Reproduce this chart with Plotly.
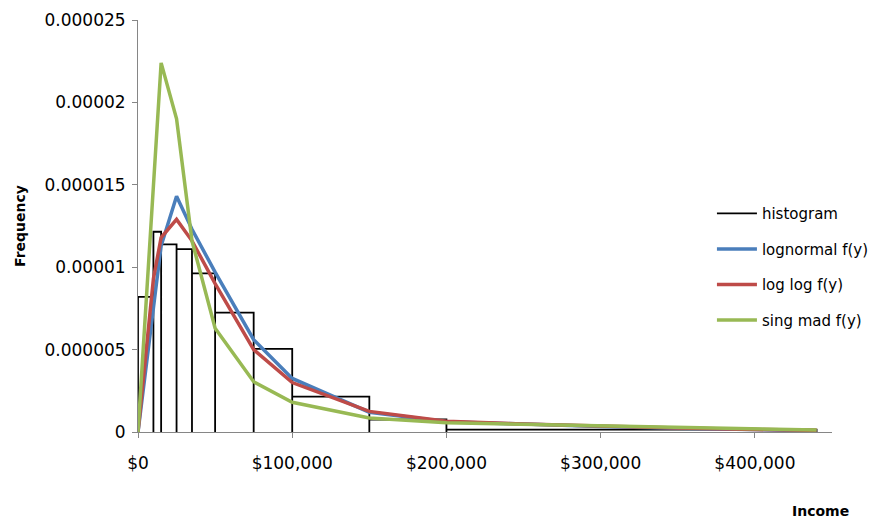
import plotly.graph_objects as go

# Histogram bins (income edges) and density heights
bin_edges = [0, 10000, 15000, 25000, 35000, 50000, 75000, 100000, 150000, 200000, 440000]
bin_heights = [8.2e-6, 12.15e-6, 11.39e-6, 11.1e-6, 9.63e-6, 7.24e-6, 5.04e-6, 2.15e-6, 0.76e-6, 0.15e-6]

# Fitted density curves evaluated at these incomes
income_pts = [0, 10000, 15000, 25000, 35000, 50000, 75000, 100000, 150000, 200000,
              250000, 300000, 350000, 400000, 440000]
lognormal_f = [0, 7.4e-6, 11.3e-6, 14.3e-6, 12.3e-6, 9.7e-6, 5.6e-6, 3.25e-6, 1.2e-6, 0.62e-6,
               0.46e-6, 0.34e-6, 0.23e-6, 0.13e-6, 0.07e-6]
loglog_f = [0, 9.3e-6, 11.8e-6, 12.9e-6, 11.6e-6, 9.0e-6, 5.0e-6, 3.0e-6, 1.25e-6, 0.65e-6,
            0.48e-6, 0.35e-6, 0.25e-6, 0.15e-6, 0.1e-6]
singmad_f = [0, 14.8e-6, 22.4e-6, 19.0e-6, 11.6e-6, 6.3e-6, 3.05e-6, 1.8e-6, 0.85e-6, 0.56e-6,
             0.46e-6, 0.36e-6, 0.27e-6, 0.18e-6, 0.12e-6]

x_ticks = [0, 100000, 200000, 300000, 400000]
x_tick_text = ["$0", "$100,000", "$200,000", "$300,000", "$400,000"]
y_ticks = [0, 0.000005, 0.00001, 0.000015, 0.00002, 0.000025]
y_tick_text = ["0", "0.000005", "0.00001", "0.000015", "0.00002", "0.000025"]

# Outline path of the histogram bars
hist_x, hist_y = [], []
for a, b, h in zip(bin_edges[:-1], bin_edges[1:], bin_heights):
    hist_x += [a, a, b, b]
    hist_y += [0, h, h, 0]

FONT = "DejaVu Sans"

fig = go.Figure()
fig.add_trace(go.Scatter(x=hist_x, y=hist_y, mode="lines", name="histogram",
                         line=dict(color="black", width=1.8), legendgroup="a"))
fig.add_trace(go.Scatter(x=income_pts, y=lognormal_f, mode="lines", name="lognormal f(y)",
                         line=dict(color="#4A7EBB", width=3.5), legendgroup="b"))
fig.add_trace(go.Scatter(x=income_pts, y=loglog_f, mode="lines", name="log log f(y)",
                         line=dict(color="#BE4B48", width=3.5), legendgroup="c"))
fig.add_trace(go.Scatter(x=income_pts, y=singmad_f, mode="lines", name="sing mad f(y)",
                         line=dict(color="#98B954", width=3.5), legendgroup="d"))

fig.update_layout(
    width=873, height=523,
    margin=dict(l=138, r=41, t=20, b=91, autoexpand=False),
    paper_bgcolor="white", plot_bgcolor="white",
    font=dict(family=FONT, size=16, color="black"),
    showlegend=True,
    legend=dict(x=0.827, y=0.570, xanchor="left", yanchor="top",
                traceorder="grouped", tracegroupgap=13, itemwidth=40,
                font=dict(family=FONT, size=15, color="black"),
                bgcolor="rgba(0,0,0,0)"),
    xaxis=dict(range=[0, 450000], tickvals=x_ticks, ticktext=x_tick_text,
               showgrid=False, zeroline=False, showline=True, linecolor="#868686",
               linewidth=1, ticks="outside", ticklen=5, tickcolor="#868686",
               ticklabelstandoff=11, tickfont=dict(family=FONT, size=17)),
    yaxis=dict(range=[0, 0.000025], tickvals=y_ticks, ticktext=y_tick_text,
               showgrid=False, zeroline=False, showline=True, linecolor="#868686",
               linewidth=1, ticks="outside", ticklen=5, tickcolor="#868686",
               ticklabelstandoff=3, tickfont=dict(family=FONT, size=17)),
    annotations=[
        dict(text="<b>Frequency</b>", xref="paper", yref="paper", x=-0.170, y=0.5,
             xanchor="center", yanchor="middle",
             textangle=-90, showarrow=False, font=dict(family=FONT, size=14)),
        dict(text="<b>Income</b>", xref="paper", yref="paper", x=0.983, y=-0.192,
             xanchor="center", yanchor="middle", showarrow=False,
             font=dict(family=FONT, size=14)),
    ],
)

fig.write_html("out.html")
